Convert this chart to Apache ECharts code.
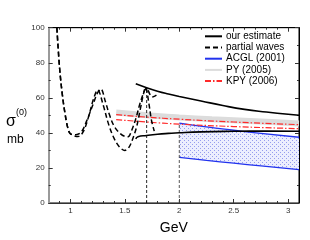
<!DOCTYPE html>
<html><head><meta charset="utf-8">
<script src="https://cdn.jsdelivr.net/npm/echarts@6/dist/echarts.min.js"></script>
<style>html,body{margin:0;padding:0;background:#fff}#c{width:310px;height:240px}</style>
</head><body><div id="c"></div>
<script>
// ---- tick labels ----
const xMajorTicks = [1, 1.5, 2, 2.5, 3];
const xMinorTicks = [0.9, 1.1, 1.2, 1.3, 1.4, 1.6, 1.7, 1.8, 1.9, 2.1, 2.2, 2.3, 2.4, 2.6, 2.7, 2.8, 2.9];
// ---- our estimate ----
const estUpperX = [1.6, 1.7, 1.8, 1.9, 2.0, 2.2, 2.4, 2.6, 2.8, 3.0, 3.1];
const estUpperY = [68, 65.8, 63.8, 62.2, 60.8, 58.2, 55.6, 53.4, 51.9, 50.6, 50.1];
const estLowerX = [1.6, 1.62, 1.7, 1.8, 1.9, 2.0, 2.2, 2.5, 2.8, 3.1];
const estLowerY = [36.6, 37.8, 38.5, 39.2, 39.7, 40.1, 40.6, 40.9, 41.0, 40.9];
// ---- partial waves ----
const pwUpperX = [0.875, 0.9, 0.925, 0.95, 0.975, 1.0, 1.05, 1.1, 1.15, 1.2, 1.25, 1.28, 1.32, 1.36, 1.4, 1.45, 1.5, 1.53, 1.56, 1.6, 1.64, 1.68, 1.7, 1.73, 1.75, 1.77, 1.79];
const pwUpperY = [100, 77, 62, 51, 43, 39.5, 39, 40.5, 47, 55, 63, 65, 58, 50, 44, 40, 38, 37.8, 41, 48, 57, 64, 65.5, 62, 60.5, 60.8, 61.5];
const pwLowerX = [0.875, 0.9, 0.925, 0.95, 0.975, 1.0, 1.07, 1.12, 1.17, 1.21, 1.25, 1.3, 1.35, 1.4, 1.45, 1.5, 1.54, 1.58, 1.61, 1.64, 1.67, 1.69, 1.72, 1.745, 1.77];
const pwLowerY = [100, 77, 62, 51, 43, 39.5, 37.9, 41, 50, 59, 64.5, 56, 45, 37, 32, 30, 32, 38, 44, 53, 62, 66, 57, 47, 41];
// ---- ACGL (2001) ----
const acglX = [2.0, 2.25, 2.5, 2.75, 3.1];
const acglUpperY = [45.6, 43.4, 41.5, 39.7, 37.5];
const acglLowerY = [26.0, 24.3, 22.7, 21.2, 19.0];
// ---- PY (2005) ----
const pyX = [1.42, 1.6, 1.8, 2.0, 2.3, 2.6, 2.9, 3.1];
const pyY = [51.6, 50.6, 49.6, 48.8, 47.8, 46.9, 46.0, 45.4];
// ---- KPY (2006) ----
const kpyX = [1.42, 1.7, 2.0, 2.5, 3.1];
const kpyUpperY = [50.4, 49.0, 47.8, 46.2, 44.7];
const kpyLowerY = [47.6, 46.2, 45.0, 43.6, 42.4];
// ---- vertical markers ----
const vline1X = [1.7, 1.7];
const vline1Y = [0, 66];
const vline2X = [2.0, 2.0];
const vline2Y = [0, 45.6];

const zip = (xs, ys) => xs.map((x, i) => [x, ys[i]]);

// dotted fill pattern
const pc = document.createElement('canvas');
pc.width = 4; pc.height = 4;
const g = pc.getContext('2d');
g.fillStyle = '#eceefe'; g.fillRect(0, 0, 4, 4);
g.fillStyle = '#959cee';
g.fillRect(0, 0, 1, 1); g.fillRect(2, 2, 1, 1);

const FONT = 'Liberation Sans, Arial, Helvetica, sans-serif';
const chart = echarts.init(document.getElementById('c'), null, {renderer: 'canvas'});

const lineBase = {type: 'line', showSymbol: false, symbol: 'none', animation: false, xAxisIndex: 0, yAxisIndex: 0};

chart.setOption({
  animation: false,
  backgroundColor: '#fff',
  grid: {left: 48.7, right: 11, top: 27.7, bottom: 29, show: true, borderColor: '#000', borderWidth: 1},
  legend: {
    orient: 'vertical', left: 204, top: 31.3, padding: 0,
    itemWidth: 17, itemHeight: 10, itemGap: 1.2,
    itemStyle: {opacity: 0},
    textStyle: {fontSize: 10, fontFamily: FONT, color: '#000', padding: [0, 0, 0, -1]},
    data: ['our estimate', 'partial waves', 'ACGL (2001)', 'PY (2005)', 'KPY (2006)']
  },
  xAxis: [
    {type: 'value', min: 0.8, max: 3.1, position: 'bottom',
      name: 'GeV', nameLocation: 'middle', nameGap: 18,
      nameTextStyle: {fontSize: 14, fontFamily: FONT, color: '#000'},
      axisLine: {show: true, lineStyle: {color: '#333', width: 1}},
      axisTick: {show: true, inside: true, length: 4, customValues: xMajorTicks, lineStyle: {color: '#333'}},
      axisLabel: {show: true, customValues: xMajorTicks, fontSize: 8, fontFamily: FONT, color: '#333', margin: 4},
      splitLine: {show: false}},
    {type: 'value', min: 0.8, max: 3.1, position: 'bottom',
      axisLine: {show: false},
      axisTick: {show: true, inside: true, length: 2, customValues: xMinorTicks, lineStyle: {color: '#333'}},
      axisLabel: {show: false, customValues: xMinorTicks}, splitLine: {show: false}},
    {type: 'value', min: 0.8, max: 3.1, position: 'top',
      axisLine: {show: true, lineStyle: {color: '#000'}},
      axisTick: {show: true, inside: true, length: 4, customValues: xMajorTicks, lineStyle: {color: '#333'}},
      axisLabel: {show: false, customValues: xMajorTicks}, splitLine: {show: false}},
    {type: 'value', min: 0.8, max: 3.1, position: 'top',
      axisLine: {show: false},
      axisTick: {show: true, inside: true, length: 2, customValues: xMinorTicks, lineStyle: {color: '#333'}},
      axisLabel: {show: false, customValues: xMinorTicks}, splitLine: {show: false}}
  ],
  yAxis: [
    {type: 'value', min: 0, max: 100, interval: 20, position: 'left',
      axisLine: {show: true, lineStyle: {color: '#9a9a9a', width: 2}},
      axisTick: {show: true, inside: true, length: 4, lineStyle: {color: '#333'}},
      minorTick: {show: true, splitNumber: 2, length: 2, lineStyle: {color: '#333'}},
      axisLabel: {fontSize: 8, fontFamily: FONT, color: '#333', margin: 4},
      splitLine: {show: false}},
    {type: 'value', min: 0, max: 100, interval: 20, position: 'right',
      axisLine: {show: true, lineStyle: {color: '#000'}},
      axisTick: {show: true, inside: true, length: 4, lineStyle: {color: '#333'}},
      minorTick: {show: true, splitNumber: 2, length: 2, lineStyle: {color: '#333'}},
      axisLabel: {show: false}, splitLine: {show: false}}
  ],
  graphic: [
    {type: 'text', left: 6, top: 114, style: {text: 'σ', font: '16px ' + FONT, fill: '#000'}},
    {type: 'text', left: 16, top: 108, style: {text: '(0)', font: '9px ' + FONT, fill: '#000'}},
    {type: 'text', left: 7, top: 134, style: {text: 'mb', font: '12px ' + FONT, fill: '#000'}}
  ],
  series: [
    Object.assign({}, lineBase, {name: 'PY (2005)', data: zip(pyX, pyY), smooth: true,
      lineStyle: {color: '#dcdcdc', width: 6}, itemStyle: {color: '#dcdcdc'}, z: 1}),
    {type: 'custom', silent: true, z: 1, xAxisIndex: 0, yAxisIndex: 0,
      data: [0],
      renderItem: function (params, api) {
        const pts = [];
        acglX.forEach((x, i) => pts.push(api.coord([x, acglUpperY[i]])));
        for (let i = acglX.length - 1; i >= 0; i--) pts.push(api.coord([acglX[i], acglLowerY[i]]));
        return {type: 'polygon', shape: {points: pts},
          style: {fill: {image: pc, repeat: 'repeat'}, stroke: 'none'},
          clipPath: {type: 'rect', shape: {x: params.coordSys.x, y: params.coordSys.y, width: params.coordSys.width, height: params.coordSys.height}}};
      }},
    Object.assign({}, lineBase, {name: 'ACGL (2001)', data: zip(acglX, acglUpperY), smooth: true,
      lineStyle: {color: '#2233ee', width: 1.3}, itemStyle: {color: '#2233ee'}, z: 3}),
    Object.assign({}, lineBase, {name: 'ACGL (2001)', data: zip(acglX, acglLowerY), smooth: true,
      lineStyle: {color: '#2233ee', width: 1.3}, itemStyle: {color: '#2233ee'}, z: 3}),
    Object.assign({}, lineBase, {name: 'KPY (2006)', data: zip(kpyX, kpyUpperY), smooth: true,
      lineStyle: {color: '#ff2a2a', width: 1.2, type: [6, 2, 1.5, 2]}, itemStyle: {color: '#ff2a2a'}, z: 3}),
    Object.assign({}, lineBase, {name: 'KPY (2006)', data: zip(kpyX, kpyLowerY), smooth: true,
      lineStyle: {color: '#ff2a2a', width: 1.2, type: [6, 2, 1.5, 2]}, itemStyle: {color: '#ff2a2a'}, z: 3}),
    Object.assign({}, lineBase, {name: 'vline1', data: zip(vline1X, vline1Y),
      lineStyle: {color: '#111', width: 0.9, type: [3, 2]}, z: 3}),
    Object.assign({}, lineBase, {name: 'vline2', data: zip(vline2X, vline2Y),
      lineStyle: {color: '#444', width: 0.9, type: [3, 2]}, z: 3}),
    Object.assign({}, lineBase, {name: 'partial waves', data: zip(pwUpperX, pwUpperY), smooth: 0.35,
      lineStyle: {color: '#000', width: 1.5, type: [5, 3]}, itemStyle: {color: '#000'}, z: 4}),
    Object.assign({}, lineBase, {name: 'partial waves', data: zip(pwLowerX, pwLowerY), smooth: 0.35,
      lineStyle: {color: '#000', width: 1.5, type: [5, 3]}, itemStyle: {color: '#000'}, z: 4}),
    Object.assign({}, lineBase, {name: 'our estimate', data: zip(estUpperX, estUpperY), smooth: true,
      lineStyle: {color: '#000', width: 1.6}, itemStyle: {color: '#000'}, z: 5}),
    Object.assign({}, lineBase, {name: 'our estimate', data: zip(estLowerX, estLowerY), smooth: true,
      lineStyle: {color: '#000', width: 1.6}, itemStyle: {color: '#000'}, z: 5})
  ]
});
</script></body></html>
